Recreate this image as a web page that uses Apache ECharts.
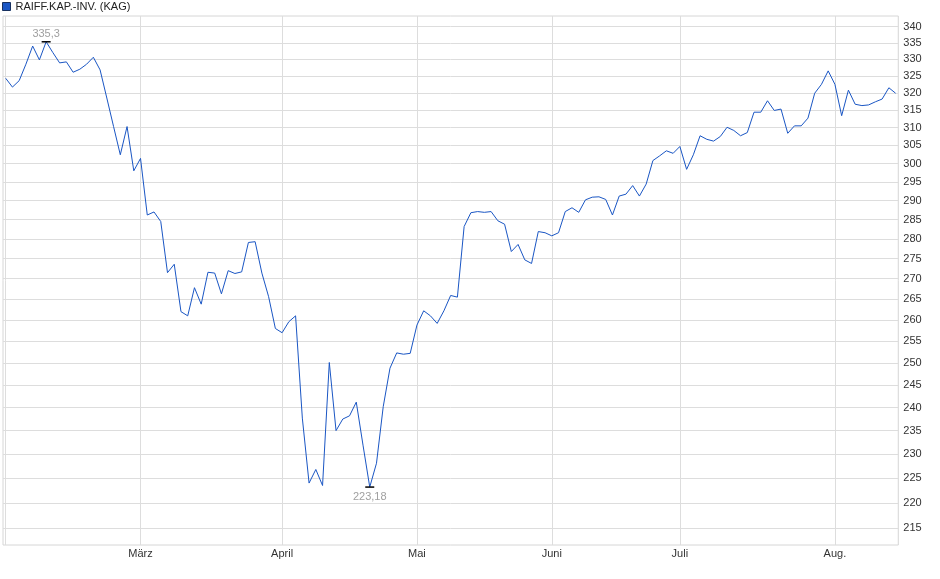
<!DOCTYPE html>
<html>
<head>
<meta charset="utf-8">
<script src="https://cdn.jsdelivr.net/npm/echarts@6/dist/echarts.min.js"></script>
<style>
html,body{margin:0;padding:0;background:#fff;}
#chart{width:940px;height:579px;}
</style>
</head>
<body>
<div id="chart"></div>
<script>
// Series name
const seriesName = 'RAIFF.KAP.-INV. (KAG)';

// Month labels (first month unlabeled in the reference)
const monthLabels = ['', 'März', 'April', 'Mai', 'Juni', 'Juli', 'Aug.'];

// Daily values per month (trading days)
const febValues = [324.3, 321.7, 323.6, 328.5, 334.0, 329.8, 335.3, 332.0, 328.9, 329.2,
                   326.1, 327.0, 328.5, 330.6, 326.8, 318.5, 310.3, 302.4, 310.3, 298.0];
const marValues = [301.4, 286.2, 287.0, 284.5, 271.5, 273.6, 262.0, 261.0, 267.8, 263.8,
                   271.6, 271.4, 266.3, 272.0, 271.3, 271.7, 279.1, 279.3, 271.4, 265.6, 258.0];
const aprValues = [257.0, 259.6, 261.0, 237.7, 224.0, 226.8, 223.5, 250.1, 235.0, 237.5,
                   238.2, 241.2, 231.9, 223.18, 228.1, 240.2, 248.8, 252.3, 252.0, 252.2];
const mayValues = [258.8, 262.2, 261.0, 259.2, 262.2, 265.9, 265.5, 283.2, 286.8, 287.1,
                   286.9, 287.1, 284.7, 283.8, 276.8, 278.6, 274.7, 273.8, 281.9, 281.6];
const junValues = [280.8, 281.6, 287.1, 288.1, 286.9, 290.2, 290.9, 291.0, 290.3, 286.2,
                   291.2, 291.7, 294.0, 291.2, 294.4, 300.8, 302.1, 303.5, 302.8];
const julValues = [304.7, 298.4, 302.4, 307.7, 306.7, 306.2, 307.5, 310.1, 309.2, 307.7,
                   308.6, 314.4, 314.4, 317.7, 314.9, 315.3, 308.4, 310.5, 310.5, 312.7,
                   319.9, 322.5, 326.5];
const augValues = [322.5, 313.4, 320.8, 316.7, 316.3, 316.5, 317.4, 318.2, 321.5, 319.9];

// Y tick labels
const yTicks = [215, 220, 225, 230, 235, 240, 245, 250, 255, 260, 265, 270, 275, 280,
                285, 290, 295, 300, 305, 310, 315, 320, 325, 330, 335, 340];

const months = [febValues, marValues, aprValues, mayValues, junValues, julValues, augValues];
const monthStarts = [];
const points = [];
months.forEach(function (arr) {
  monthStarts.push(points.length);
  arr.forEach(function (v) { points.push([points.length, v]); });
});
const labelStarts = monthStarts.slice(1);
const labelByIndex = {};
monthStarts.forEach(function (s, k) { labelByIndex[s] = monthLabels[k]; });

const font = "'Liberation Sans', Arial, sans-serif";
const chart = echarts.init(document.getElementById('chart'), null, {renderer: 'canvas'});
chart.setOption({
  animation: false,
  backgroundColor: '#ffffff',
  textStyle: {fontFamily: font},
  legend: {
    show: true,
    left: 2,
    top: 1,
    padding: 0,
    itemWidth: 8,
    itemHeight: 8,
    itemGap: 10,
    icon: 'rect',
    itemStyle: {borderColor: '#17305f', borderWidth: 1},
    textStyle: {fontFamily: font, fontSize: 11, color: '#222'},
    data: [seriesName]
  },
  grid: {
    left: 3,
    right: 41.7,
    top: 16,
    bottom: 34,
    show: true,
    borderColor: '#d6d6d6',
    borderWidth: 1,
    containLabel: false
  },
  xAxis: {
    type: 'value',
    min: -0.4,
    max: points.length - 1 + 0.4,
    axisLine: {show: false},
    axisTick: {show: false, customValues: monthStarts},
    splitLine: {show: true, lineStyle: {color: '#dddddd', width: 1}},
    axisLabel: {
      customValues: labelStarts,
      margin: 3,
      fontSize: 11,
      fontFamily: font,
      color: '#333',
      formatter: function (v) { return labelByIndex[v] || ''; }
    }
  },
  yAxis: {
    type: 'log',
    logBase: 10,
    position: 'right',
    min: 211.67,
    max: 343.3,
    axisLine: {show: false},
    axisTick: {show: false, customValues: yTicks},
    splitLine: {show: true, lineStyle: {color: '#dddddd', width: 1}},
    axisLabel: {
      customValues: yTicks,
      margin: 5,
      fontSize: 11,
      fontFamily: font,
      color: '#333',
      formatter: function (v) { return String(Math.round(v)); }
    }
  },
  series: [{
    name: seriesName,
    type: 'line',
    data: points,
    showSymbol: false,
    symbol: 'none',
    color: '#1a56c4',
    lineStyle: {color: '#1a56c4', width: 1},
    itemStyle: {color: '#1a56c4'},
    markPoint: {
      symbol: 'rect',
      symbolSize: [9, 1.5],
      itemStyle: {color: '#000'},
      label: {
        fontSize: 11,
        fontFamily: font,
        color: '#a0a0a0',
        formatter: function (p) { return String(p.value).replace('.', ','); }
      },
      data: [
        {type: 'max', label: {position: 'top', distance: 2}},
        {type: 'min', label: {position: 'bottom', distance: 4}}
      ]
    }
  }]
});
</script>
</body>
</html>
